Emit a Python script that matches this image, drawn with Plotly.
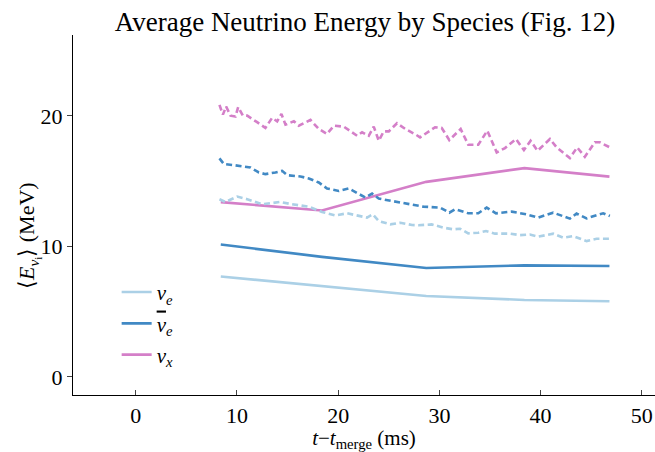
import plotly.graph_objects as go

# ---- data ----
t_solid = [8.4, 18.4, 28.7, 38.4, 46.8]
nue_solid = [7.7, 6.95, 6.2, 5.9, 5.8]
nuebar_solid = [10.15, 9.2, 8.35, 8.55, 8.5]
nux_solid = [13.4, 12.75, 14.95, 16.0, 15.35]

t_nux_dash = [8.27, 8.61, 8.93, 9.36, 9.85, 10.12, 10.58, 11.01, 11.99, 12.81, 13.47, 13.97,
              14.39, 14.79, 15.62, 16.11, 17.26, 18.08, 18.90, 19.57, 20.55, 21.87, 22.36,
              23.02, 23.51, 24.01, 24.50, 25.00, 25.81, 26.63, 27.69, 28.09, 29.57, 30.23,
              30.98, 32.10, 32.85, 33.84, 34.73, 35.66, 36.48, 37.56, 38.35, 39.01, 39.70,
              40.92, 41.58, 42.89, 43.61, 44.37, 45.36, 45.85, 46.84]
nux_dash = [20.85, 20.10, 20.72, 20.02, 19.95, 20.67, 20.02, 20.02, 19.52, 19.08, 19.85, 19.59,
            20.15, 19.33, 19.59, 19.25, 19.69, 19.00, 18.62, 19.25, 19.18, 18.48, 18.75,
            18.48, 19.18, 18.10, 18.82, 18.82, 19.44, 19.00, 18.56, 18.36, 19.13, 19.08,
            18.15, 19.00, 17.79, 17.79, 18.87, 17.21, 17.54, 18.23, 17.38, 18.10, 17.33,
            18.23, 17.59, 16.77, 17.59, 16.87, 17.98, 17.98, 17.59]

t_nuebar_dash = [8.27, 8.71, 9.69, 10.68, 11.33, 12.16, 12.81, 13.80, 14.46, 14.96, 16.27,
                 17.10, 18.08, 18.90, 20.06, 21.05, 22.03, 22.69, 23.35, 24.01, 25.32, 26.63,
                 27.69, 28.41, 30.06, 30.98, 31.54, 32.85, 33.84, 34.67, 35.59, 37.14, 38.62,
                 39.76, 41.24, 42.89, 43.55, 44.54, 46.18, 46.84]
nuebar_dash = [16.75, 16.31, 16.23, 16.13, 16.05, 15.67, 15.54, 15.67, 15.79, 15.46, 15.36,
               15.21, 14.90, 14.44, 14.25, 14.44, 14.00, 13.75, 14.05, 13.67, 13.48, 13.31,
               13.15, 13.05, 12.98, 12.59, 12.85, 12.54, 12.54, 12.98, 12.54, 12.67, 12.46,
               12.21, 12.59, 12.13, 12.52, 12.15, 12.54, 12.33]

t_nue_dash = [8.27, 8.86, 10.02, 11.01, 12.49, 14.29, 15.45, 17.10, 18.41, 19.72, 20.88,
              22.03, 22.85, 23.42, 24.01, 25.15, 26.14, 27.30, 27.92, 29.24, 30.39, 31.37,
              32.03, 32.85, 33.84, 34.60, 35.49, 36.97, 37.96, 38.94, 39.76, 41.24, 42.23,
              43.22, 44.54, 45.53, 46.84]
nue_dash = [13.62, 13.41, 13.82, 13.62, 13.23, 13.41, 13.23, 13.05, 12.64, 12.38, 12.54,
            12.33, 12.21, 12.46, 11.95, 11.69, 11.82, 11.64, 11.62, 11.69, 11.44, 11.31,
            11.36, 11.00, 11.05, 11.18, 10.98, 10.98, 10.87, 10.92, 10.75, 10.98, 10.67,
            10.79, 10.41, 10.59, 10.59]

labels = ["<i>ν<sub>e</sub></i>",
          "<i><span style='text-decoration:overline'>ν</span><sub>e</sub></i>",
          "<i>ν<sub>x</sub></i>"]
x_ticks = [0, 10, 20, 30, 40, 50]
y_ticks = [0, 10, 20]

# ---- style ----
colors = ["#abd0e6", "#4189c4", "#d47fc8"]
FONT = "Liberation Serif"
LW = 2.6
DASH = "6px,3.5px"

fig = go.Figure()
solids = [nue_solid, nuebar_solid, nux_solid]
dashes = [(t_nue_dash, nue_dash), (t_nuebar_dash, nuebar_dash), (t_nux_dash, nux_dash)]
for i in range(3):
    fig.add_trace(go.Scatter(x=t_solid, y=solids[i], mode="lines", name=labels[i],
                             legendgroup=f"g{i}",
                             line=dict(color=colors[i], width=LW)))
for i in range(3):
    tx, ty = dashes[i]
    fig.add_trace(go.Scatter(x=tx, y=ty, mode="lines", showlegend=False,
                             legendgroup=f"g{i}",
                             line=dict(color=colors[i], width=LW, dash=DASH)))

fig.add_annotation(text="⟨<i>E</i><sub><i>ν</i><sub>i</sub></sub>⟩ (MeV)",
                   xref="paper", yref="paper", x=(29 - 73) / 582, y=(395 - 236) / 360,
                   xanchor="center", yanchor="middle", textangle=-90, showarrow=False,
                   font=dict(family=FONT, size=22, color="black"))

fig.update_layout(
    width=655, height=452,
    margin=dict(l=73, r=0, t=35, b=57, autoexpand=False),
    paper_bgcolor="white", plot_bgcolor="white",
    font=dict(family=FONT, size=21, color="black"),
    title=dict(text="Average Neutrino Energy by Species (Fig. 12)",
               x=365 / 655, xanchor="center", xref="container",
               y=1 - 22 / 452, yref="container", yanchor="middle",
               font=dict(family=FONT, size=27, color="black")),
    showlegend=True,
    legend=dict(x=0.075, y=0.342, xanchor="left", yanchor="top",
                bgcolor="rgba(0,0,0,0)", tracegroupgap=1,
                font=dict(family=FONT, size=21)),
    xaxis=dict(range=[-6.2, 51.3], tickvals=x_ticks, ticks="inside", ticklen=5,
               showline=True, linecolor="black", linewidth=1.3, showgrid=False,
               zeroline=False, automargin=False, tickfont=dict(family=FONT, size=22),
               title=dict(text="<i>t</i>−<i>t</i><sub>merge</sub> (ms)",
                          font=dict(family=FONT, size=21), standoff=6)),
    yaxis=dict(range=[-1.38, 26.2], tickvals=y_ticks, ticks="outside", ticklen=5,
               showline=True, linecolor="black", linewidth=1.3, showgrid=False,
               zeroline=False, automargin=False, tickfont=dict(family=FONT, size=22)),
)

fig.write_html("out.html", config={"displayModeBar": False},
               post_script="document.body.style.margin='0';document.body.style.padding='0';")
